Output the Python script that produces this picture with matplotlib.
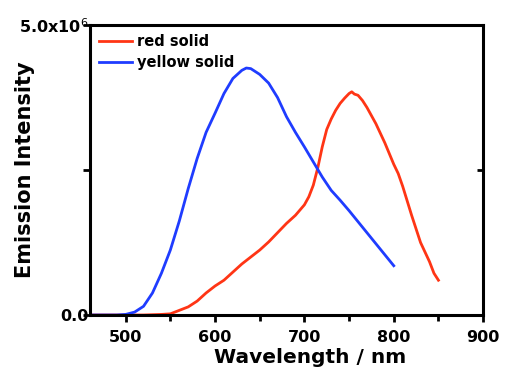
import matplotlib
matplotlib.use("Agg")
import matplotlib.pyplot as plt
from matplotlib.ticker import FixedLocator

plt.rcParams['font.family'] = ['DejaVu Sans']

# Data (intensity in units of 1e6)
blue_wl = [460, 470, 480, 490, 500, 510, 520, 530, 540, 550, 560, 570, 580, 590,
           600, 610, 620, 630, 635, 640, 650, 660, 670, 680, 690, 700, 710, 720,
           730, 740, 750, 760, 770, 780, 790, 800]
blue_int = [0.0, 0.0, 0.0, 0.0, 0.01, 0.05, 0.15, 0.38, 0.72, 1.12, 1.62, 2.18, 2.70, 3.15,
            3.48, 3.82, 4.08, 4.22, 4.26, 4.25, 4.15, 4.0, 3.75, 3.42, 3.15, 2.90, 2.64, 2.38,
            2.15, 1.98, 1.80, 1.61, 1.42, 1.23, 1.04, 0.85]

red_wl = [460, 480, 500, 520, 540, 550, 560, 570, 580, 590, 600, 610, 620, 630, 640,
          650, 660, 670, 680, 690, 700, 705, 710, 715, 720, 725, 730, 735, 740, 745,
          750, 753, 756, 760, 765, 770, 780, 790, 800, 805, 810, 820, 830, 840, 845, 850]
red_int = [0.0, 0.0, 0.0, 0.0, 0.01, 0.02, 0.08, 0.14, 0.24, 0.38, 0.50, 0.60, 0.74, 0.88, 1.0,
           1.12, 1.26, 1.42, 1.58, 1.72, 1.90, 2.04, 2.24, 2.54, 2.90, 3.20, 3.38, 3.53, 3.65, 3.74,
           3.82, 3.85, 3.81, 3.79, 3.70, 3.58, 3.30, 2.97, 2.60, 2.44, 2.22, 1.72, 1.25, 0.92, 0.72, 0.60]

x_ticks = [500, 600, 700, 800, 900]
x_minor = [550, 650, 750, 850]
y_ticks = [0, 2.5e6, 5e6]
y_tick_labels = ["0.0", "", "5.0x10$^6$"]

scale = 1e6
fig = plt.figure(figsize=(5.08, 3.75), dpi=100)
ax = fig.add_axes([0.177, 0.16, 0.774, 0.773])

ax.plot(red_wl, [v * scale for v in red_int], color="#ff3515", lw=2.0, label="red solid")
ax.plot(blue_wl, [v * scale for v in blue_int], color="#1f3cff", lw=2.0, label="yellow solid")

ax.set_xlim(460, 900)
ax.set_ylim(0, 5e6)

ax.xaxis.set_major_locator(FixedLocator(x_ticks))
ax.xaxis.set_minor_locator(FixedLocator(x_minor))
ax.yaxis.set_major_locator(FixedLocator(y_ticks))
ax.set_yticklabels(y_tick_labels)
ax.set_xticklabels([str(v) for v in x_ticks])

for sp in ax.spines.values():
    sp.set_linewidth(2.2)

ax.tick_params(axis="both", which="both", direction="out", width=2, length=5,
               labelsize=11.5)
ax.tick_params(axis="x", pad=6)
ax.tick_params(axis="y", pad=-4)
ax.tick_params(axis="both", which="minor", length=4)
ax.tick_params(right=False, top=False, which="both")

for lab in ax.get_xticklabels() + ax.get_yticklabels():
    lab.set_fontweight("bold")

# right-side inward ticks
ax2 = ax.twinx()
ax2.set_ylim(0, 5e6)
ax2.yaxis.set_major_locator(FixedLocator(y_ticks))
ax2.tick_params(axis="y", direction="in", width=2, length=4, labelright=False)
for sp in ax2.spines.values():
    sp.set_visible(False)

ax.set_xlabel("Wavelength / nm", fontsize=14.5, fontweight="bold")
ax.xaxis.set_label_coords(0.56, -0.115)
ax.set_ylabel("Emission Intensity", fontsize=15, fontweight="bold")
ax.yaxis.set_label_coords(-0.14, 0.5)

ax.legend(loc="upper left", frameon=False, handlelength=2.3,
          handletextpad=0.3, borderaxespad=0.2, labelspacing=0.45,
          prop={"weight": "bold", "size": 10.5})

fig.savefig("out.png", dpi=100)
